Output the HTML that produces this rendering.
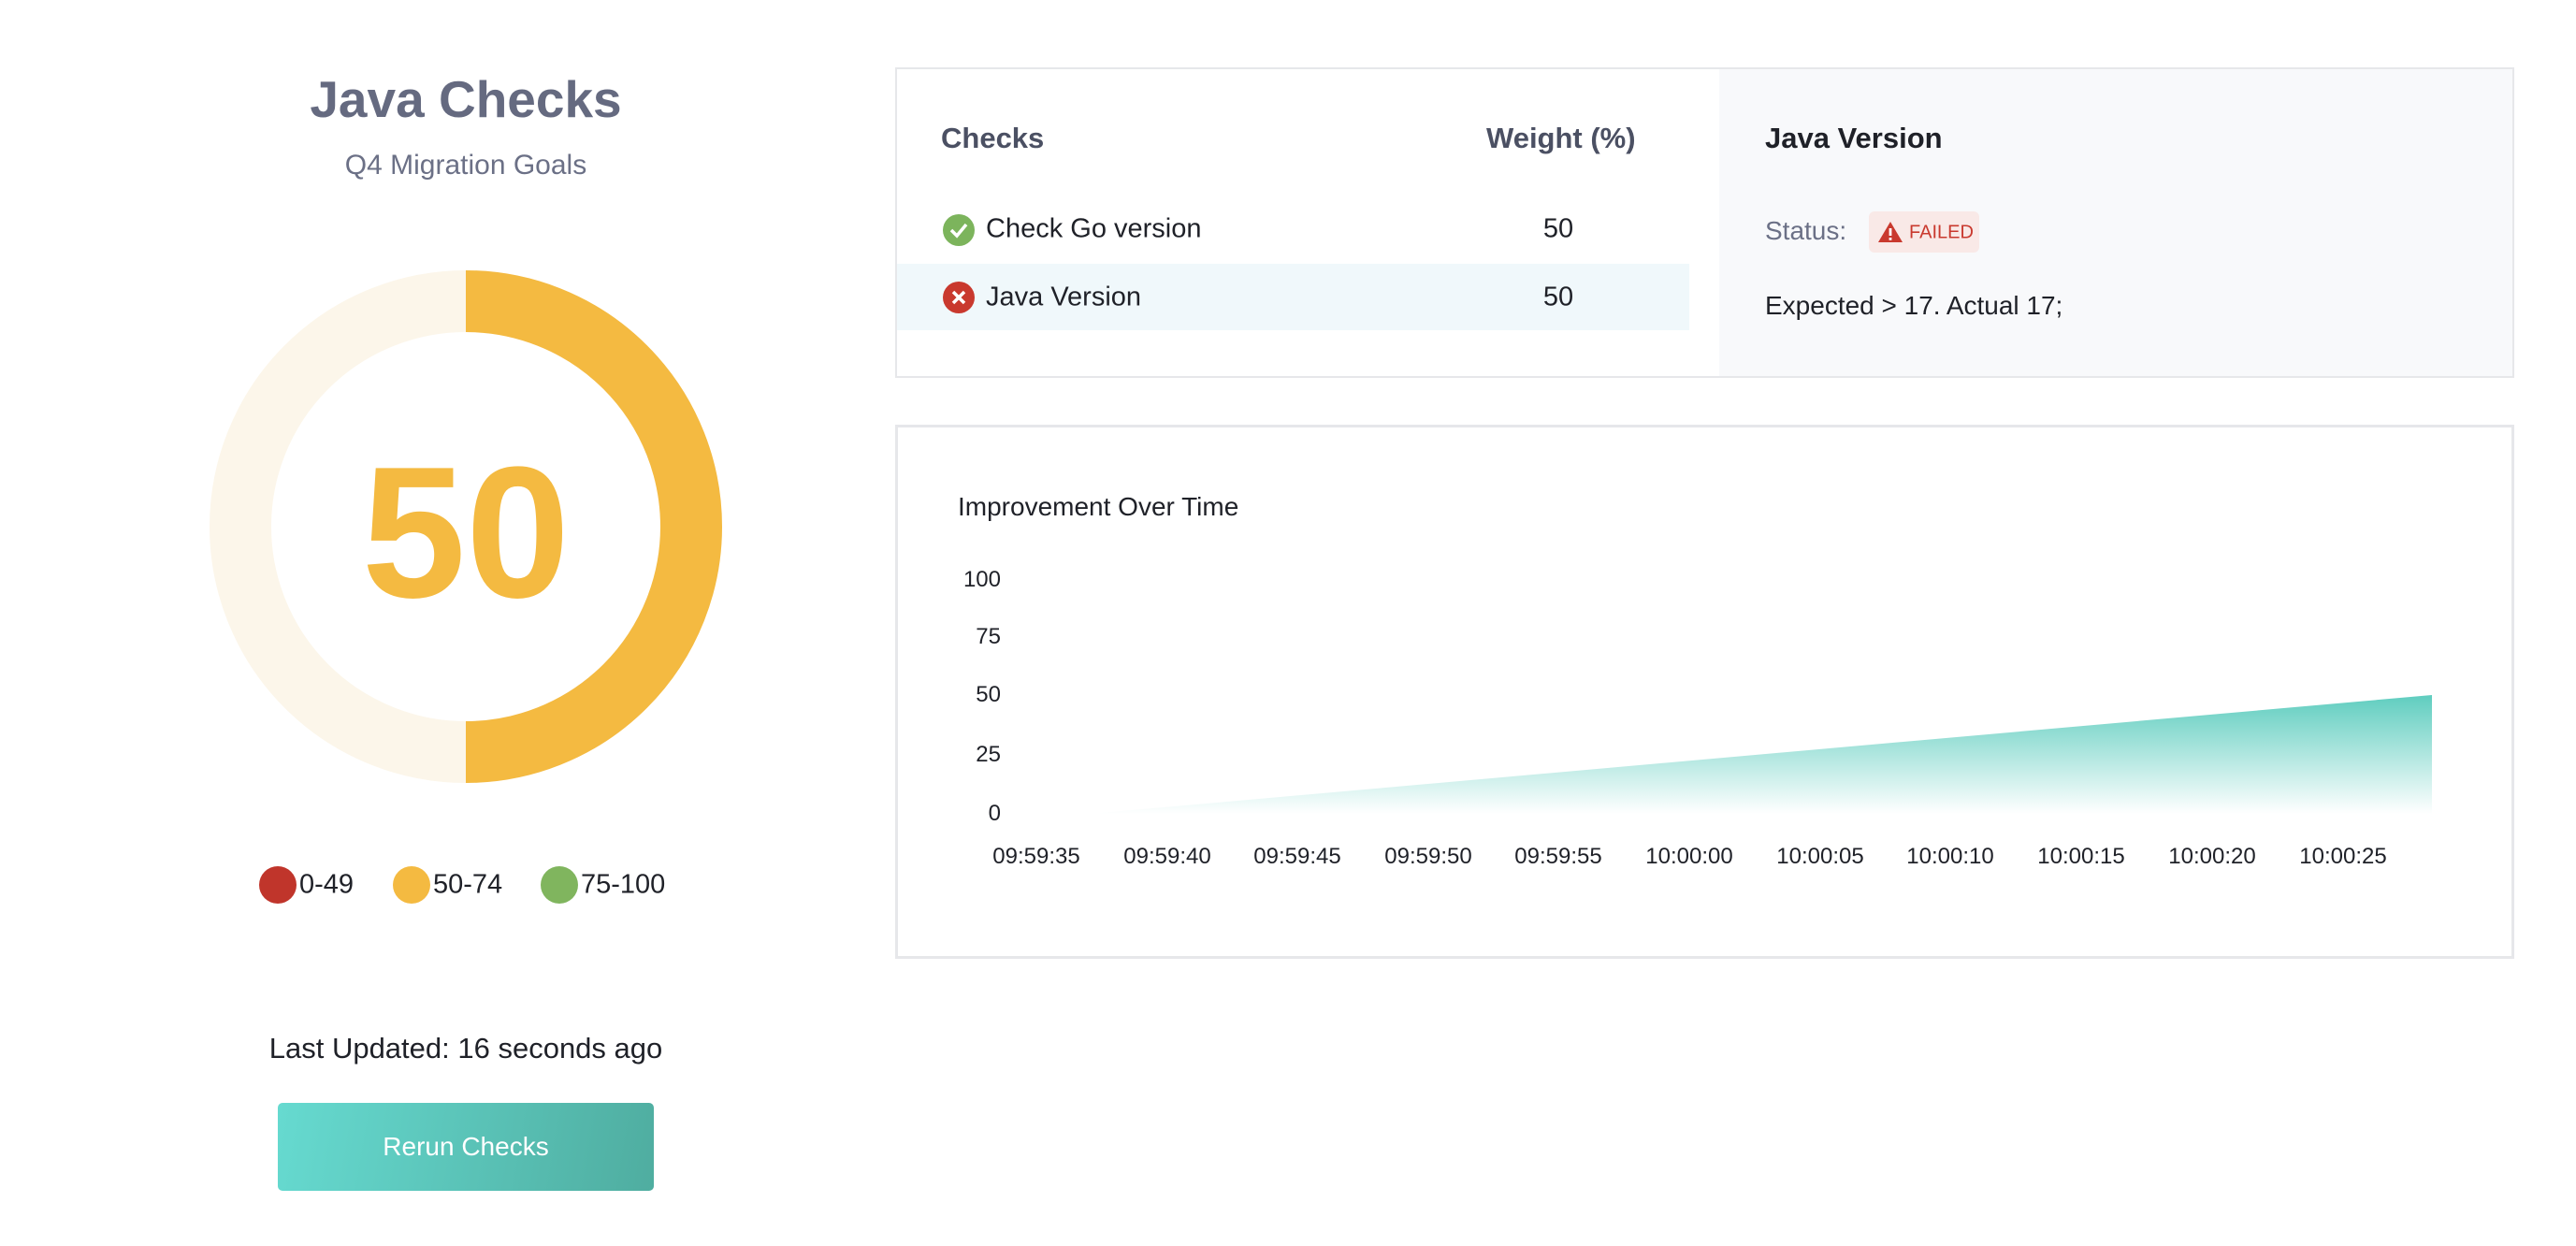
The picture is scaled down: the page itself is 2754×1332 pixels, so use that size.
<!DOCTYPE html>
<html><head><meta charset="utf-8"><style>
*{margin:0;padding:0;box-sizing:border-box}
body{width:2754px;height:1332px;background:#fff;font-family:"Liberation Sans",sans-serif;position:relative;overflow:hidden;color:#1f2128}
.a{position:absolute;white-space:nowrap}
.c{transform:translateX(-50%)}
.m{transform:translateY(-50%)}
.cm{transform:translate(-50%,-50%)}
</style></head><body>
<div class="a cm" style="left:498px;top:106px;font-size:55px;font-weight:bold;color:#656a80">Java Checks</div>
<div class="a cm" style="left:498px;top:177px;font-size:30px;color:#6b7086">Q4 Migration Goals</div>
<svg class="a" style="left:0;top:0" width="1000" height="1000">
<circle cx="498" cy="563" r="241" fill="none" stroke="#fcf6ea" stroke-width="66"/>
<path d="M498 322 A241 241 0 0 1 498 804" fill="none" stroke="#f4ba41" stroke-width="66"/>
<text x="498" y="638" text-anchor="middle" font-family="Liberation Sans" font-weight="bold" font-size="200" fill="#f4ba41">50</text>
<circle cx="297" cy="946" r="20" fill="#c0352b"/>
<circle cx="440" cy="946" r="20" fill="#f4ba41"/>
<circle cx="598" cy="946" r="20" fill="#80b55e"/>
</svg>
<div class="a m" style="left:320px;top:946px;font-size:29px">0-49</div>
<div class="a m" style="left:463px;top:946px;font-size:29px">50-74</div>
<div class="a m" style="left:621px;top:946px;font-size:29px">75-100</div>
<div class="a cm" style="left:498px;top:1121px;font-size:31px">Last Updated: 16 seconds ago</div>
<div class="a" style="left:297px;top:1179px;width:402px;height:94px;border-radius:5px;background:linear-gradient(100deg,#66dad0,#4fada0);color:#fff;font-size:28px;display:flex;align-items:center;justify-content:center">Rerun Checks</div>

<div class="a" style="left:957px;top:72px;width:1731px;height:332px;border:2px solid #e6e7ea;background:#fff"></div>
<div class="a" style="left:1838px;top:74px;width:848px;height:328px;background:#f8f9fb"></div>
<div class="a" style="left:959px;top:282px;width:847px;height:71px;background:#f0f8fb"></div>
<div class="a m" style="left:1006px;top:148px;font-size:31px;font-weight:bold;color:#4b5063">Checks</div>
<div class="a m" style="left:1589px;top:148px;font-size:31px;font-weight:bold;color:#4b5063">Weight (%)</div>
<svg class="a" style="left:1007px;top:228px" width="36" height="36"><circle cx="18" cy="18" r="17" fill="#7cb45c"/><path d="M10 18 l6 6 l10 -12" stroke="#fff" stroke-width="3.5" fill="none"/></svg>
<svg class="a" style="left:1007px;top:300px" width="36" height="36"><circle cx="18" cy="18" r="17" fill="#c9392e"/><path d="M12 12 L24 24 M24 12 L12 24" stroke="#fff" stroke-width="3.5"/></svg>
<div class="a m" style="left:1054px;top:245px;font-size:29px">Check Go version</div>
<div class="a m" style="left:1054px;top:318px;font-size:29px">Java Version</div>
<div class="a cm" style="left:1666px;top:245px;font-size:29px">50</div>
<div class="a cm" style="left:1666px;top:318px;font-size:29px">50</div>
<div class="a m" style="left:1887px;top:148px;font-size:31px;font-weight:bold">Java Version</div>
<div class="a m" style="left:1887px;top:247px;font-size:28px;color:#6b7086">Status:</div>
<div class="a" style="left:1998px;top:226px;width:118px;height:44px;border-radius:6px;background:#f9e9e7"></div>
<svg class="a" style="left:2007px;top:236px" width="28" height="24"><path d="M14 1 L27 23 L1 23 Z" fill="#c9392e"/><rect x="12.6" y="8" width="2.8" height="8" fill="#fff"/><rect x="12.6" y="18" width="2.8" height="2.8" fill="#fff"/></svg>
<div class="a m" style="left:2041px;top:249px;font-size:20px;color:#c9392e">FAILED</div>
<div class="a m" style="left:1887px;top:327px;font-size:28px;font-weight:500">Expected &gt; 17. Actual 17;</div>

<div class="a" style="left:957px;top:454px;width:1731px;height:571px;border:3px solid #e6e7ea;background:#fff"></div>
<div class="a m" style="left:1024px;top:542px;font-size:28px">Improvement Over Time</div>
<div style="font-size:24px">
<div class="a m" style="right:1684px;top:620px">100</div>
<div class="a m" style="right:1684px;top:681px">75</div>
<div class="a m" style="right:1684px;top:743px">50</div>
<div class="a m" style="right:1684px;top:807px">25</div>
<div class="a m" style="right:1684px;top:870px">0</div>
</div>
<svg class="a" style="left:0;top:0" width="2754" height="1332">
<defs><linearGradient id="g" x1="0" y1="743" x2="0" y2="870" gradientUnits="userSpaceOnUse"><stop offset="0" stop-color="#5fcdbf"/><stop offset="1" stop-color="#5fcdbf" stop-opacity="0"/></linearGradient></defs>
<path d="M1165 870 L2600 743 L2600 870 Z" fill="url(#g)"/>
<g font-family="Liberation Sans" font-size="24" fill="#1f2128" text-anchor="middle">
<text x="1108" y="923">09:59:35</text><text x="1248" y="923">09:59:40</text><text x="1387" y="923">09:59:45</text><text x="1527" y="923">09:59:50</text><text x="1666" y="923">09:59:55</text><text x="1806" y="923">10:00:00</text><text x="1946" y="923">10:00:05</text><text x="2085" y="923">10:00:10</text><text x="2225" y="923">10:00:15</text><text x="2365" y="923">10:00:20</text><text x="2505" y="923">10:00:25</text>
</g></svg>
</body></html>
